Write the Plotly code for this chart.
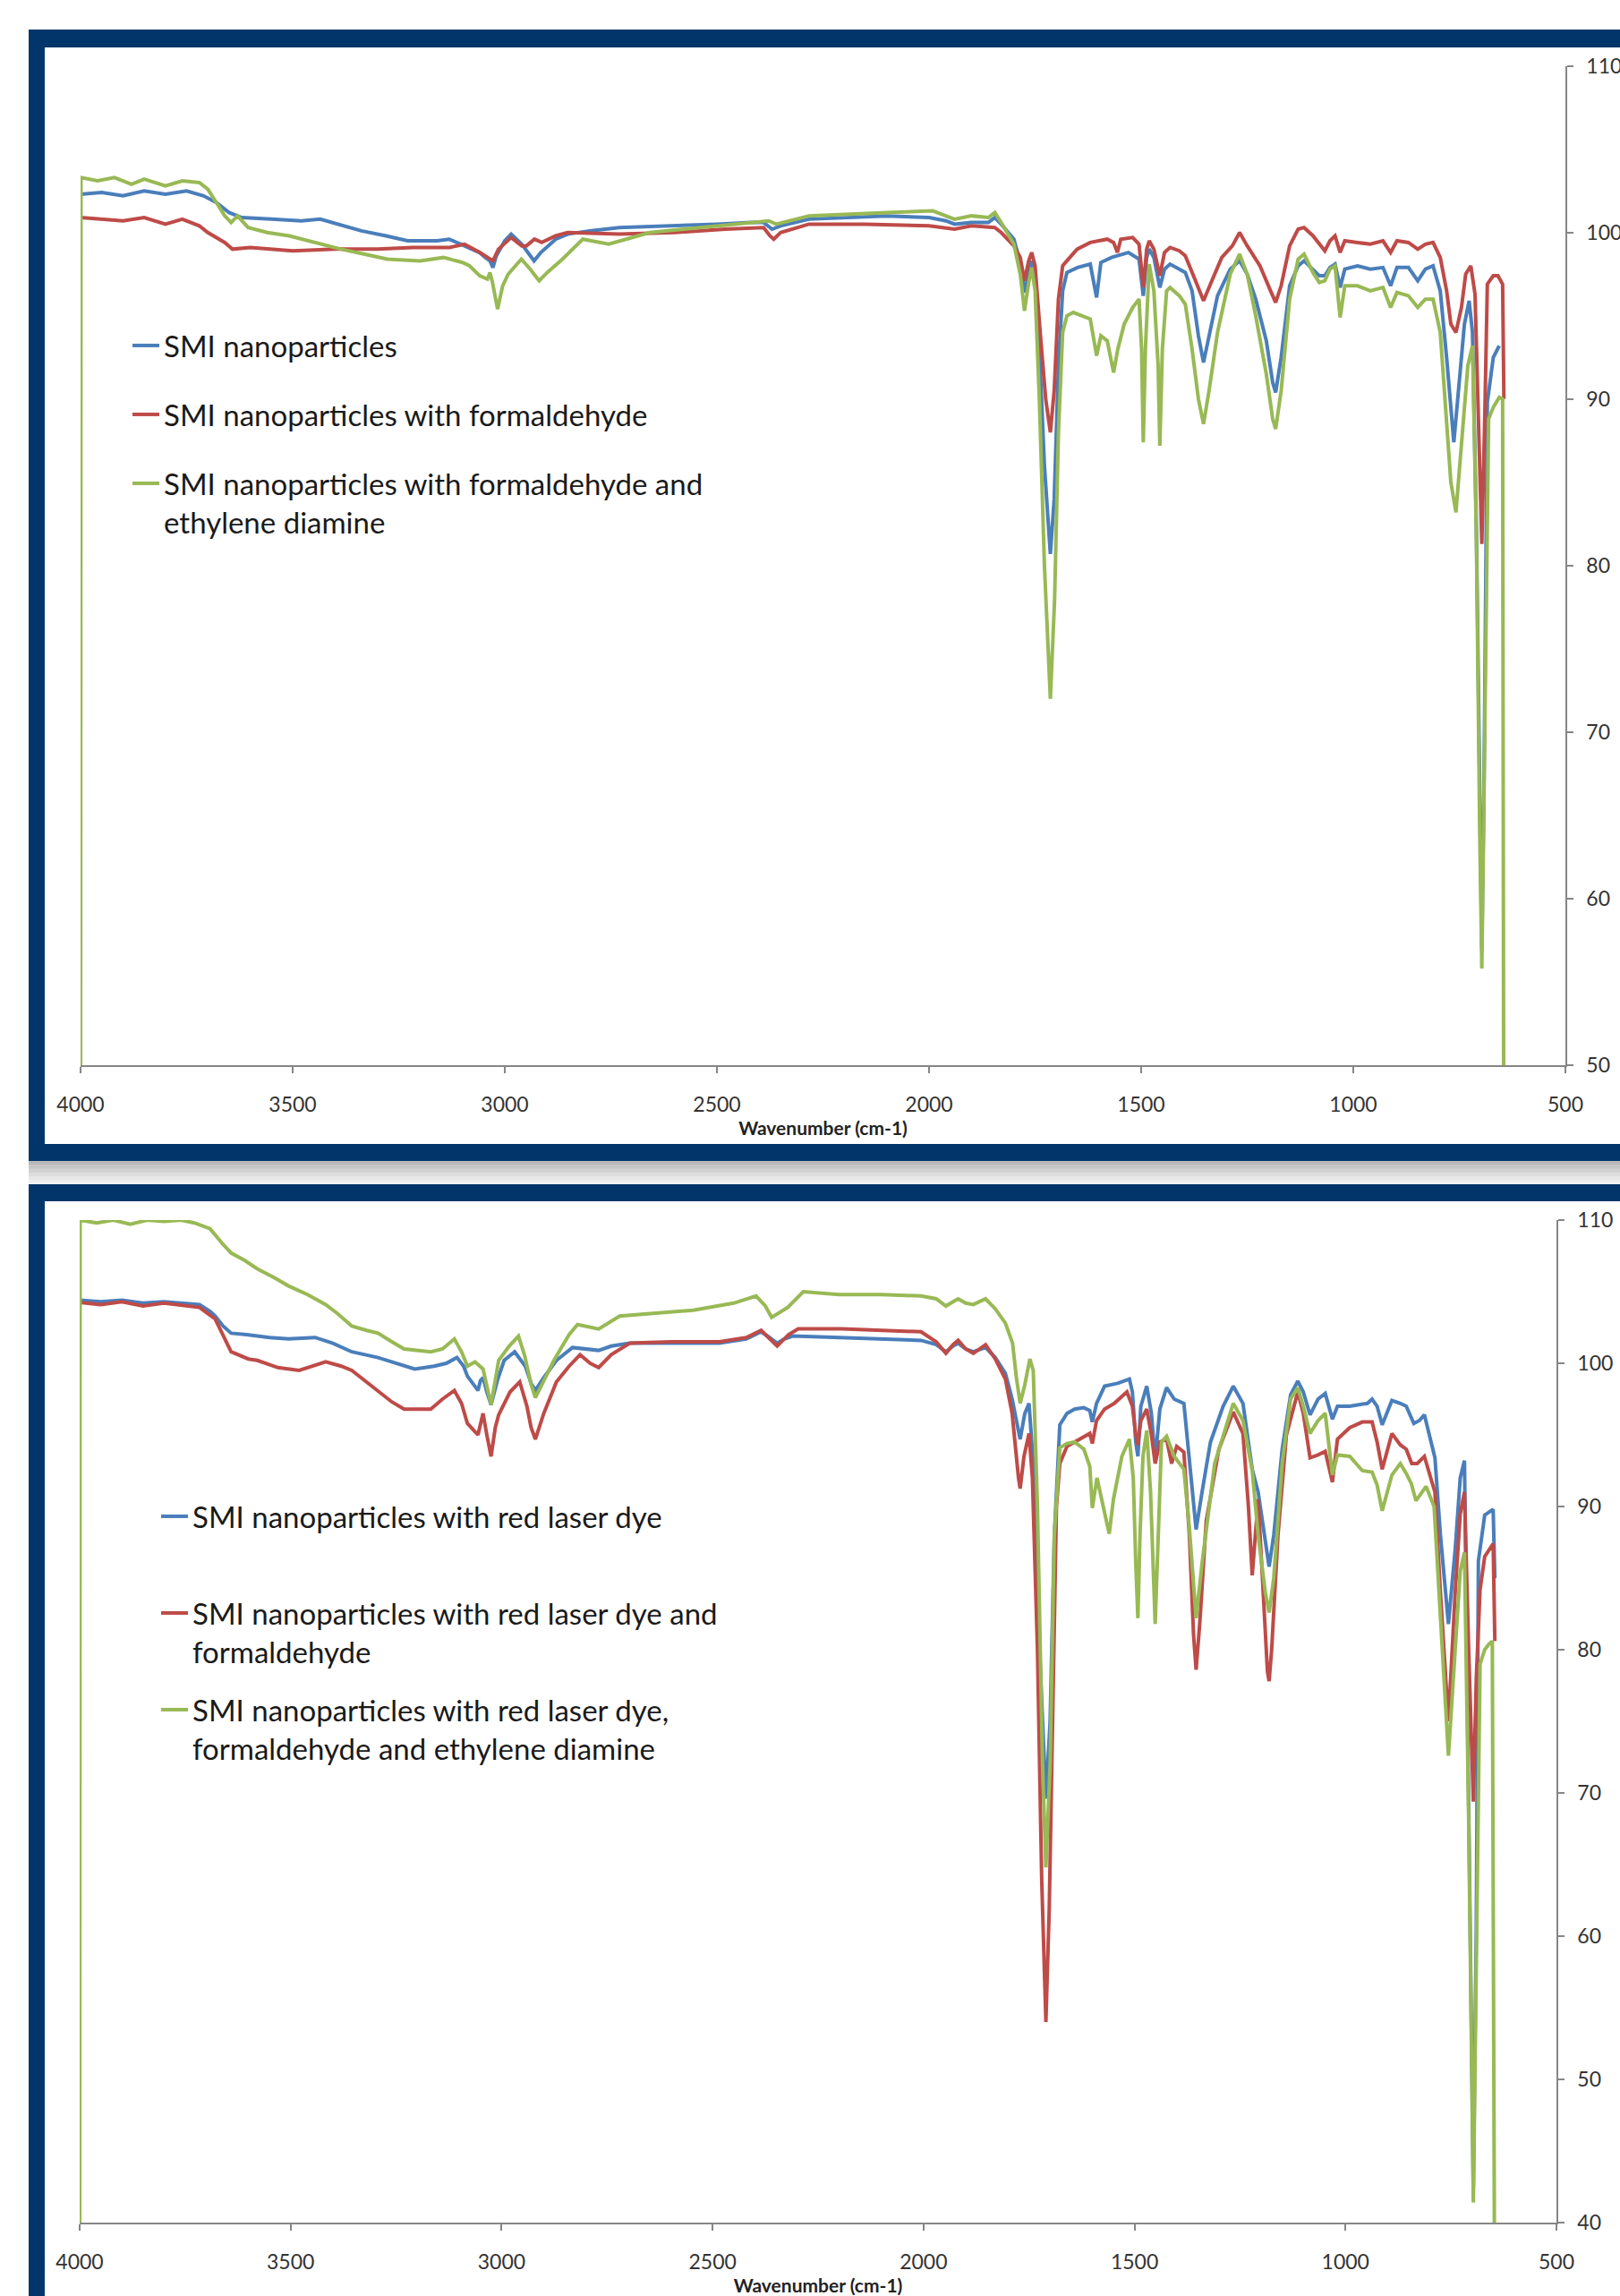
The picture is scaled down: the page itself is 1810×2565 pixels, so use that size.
import plotly.graph_objects as go

# ---------------- data (wavenumber cm-1, transmittance %) ----------------
top_blue = [(4000,102.3),(3950,102.4),(3900,102.2),(3850,102.5),(3800,102.3),(3750,102.5),(3710,102.2),
    (3680,101.8),(3650,101.2),(3620,100.9),(3550,100.8),(3480,100.7),(3435,100.8),(3380,100.4),(3338,100.1),
    (3280,99.8),(3229,99.5),(3160,99.5),(3131,99.6),(3095,99.2),(3060,98.8),(3046,98.5),(3035,98.3),(3028,97.9),
    (3020,98.6),(3000,99.5),(2985,99.9),(2960,99.3),(2940,98.6),(2931,98.3),(2915,98.8),(2880,99.6),(2852,99.9),
    (2800,100.1),(2730,100.3),(2600,100.4),(2500,100.5),(2420,100.6),(2390,100.6),(2370,100.2),(2350,100.4),
    (2283,100.8),(2200,100.9),(2100,101.0),(2000,100.9),(1960,100.7),(1940,100.5),(1900,100.6),(1860,100.6),
    (1845,100.9),(1830,100.5),(1800,99.6),(1785,98.2),(1775,96.4),(1765,97.6),(1758,98.3),(1750,97.5),(1740,93.0),
    (1728,86.0),(1714,80.7),(1705,84.0),(1695,92.0),(1685,96.5),(1675,97.6),(1650,97.9),(1620,98.1),(1605,96.1),
    (1595,98.2),(1570,98.5),(1554,98.6),(1530,98.8),(1505,98.4),(1495,96.2),(1487,98.5),(1481,99.0),(1470,98.5),
    (1456,96.7),(1445,97.8),(1432,98.1),(1410,97.8),(1396,97.6),(1380,96.5),(1365,93.8),(1353,92.2),(1340,93.8),
    (1320,96.2),(1290,97.8),(1268,98.3),(1250,97.5),(1230,96.0),(1205,93.5),(1190,91.0),(1183,90.4),(1170,92.5),
    (1150,96.8),(1130,98.0),(1116,98.3),(1095,97.8),(1080,97.4),(1067,97.4),(1055,97.9),(1043,98.1),(1031,96.7),
    (1020,97.8),(990,98.0),(960,97.8),(930,97.9),(912,96.8),(897,97.9),(870,97.9),(848,97.1),(830,97.8),(812,98.0),
    (795,96.5),(780,92.5),(763,87.4),(750,91.0),(738,94.5),(727,95.9),(719,94.0),(710,82.5),(702,64.5),(697,57.0),
    (692,66.5),(684,89.8),(670,92.5),(656,93.2)]

top_red = [(4000,100.9),(3950,100.8),(3900,100.7),(3850,100.9),(3800,100.5),(3760,100.8),(3720,100.4),(3700,100.0),
    (3680,99.7),(3660,99.4),(3642,99.0),(3600,99.1),(3500,98.9),(3398,99.0),(3300,99.0),(3216,99.1),(3130,99.1),
    (3095,99.3),(3059,98.8),(3040,98.5),(3028,98.3),(3015,99.0),(2985,99.7),(2960,99.2),(2949,99.2),(2930,99.6),
    (2913,99.4),(2880,99.8),(2852,100.0),(2730,99.9),(2600,100.0),(2480,100.2),(2390,100.3),(2375,99.8),(2366,99.6),
    (2350,100.0),(2283,100.5),(2150,100.5),(2000,100.4),(1940,100.2),(1900,100.4),(1845,100.3),(1830,100.0),
    (1800,99.2),(1785,98.5),(1775,97.1),(1765,98.3),(1758,98.8),(1750,98.0),(1738,94.0),(1725,90.0),(1714,88.0),
    (1705,90.5),(1695,96.0),(1685,98.0),(1675,98.3),(1651,99.0),(1620,99.4),(1580,99.6),(1565,99.4),(1556,98.8),
    (1548,99.6),(1520,99.7),(1505,99.3),(1495,96.7),(1487,99.0),(1481,99.5),(1470,99.0),(1456,97.4),(1445,98.8),
    (1432,99.1),(1410,98.9),(1396,98.6),(1375,97.3),(1353,95.9),(1335,97.0),(1310,98.5),(1285,99.2),(1268,100.0),
    (1250,99.2),(1220,98.0),(1195,96.5),(1183,95.8),(1170,96.8),(1150,99.2),(1130,100.2),(1116,100.3),(1095,99.8),
    (1080,99.3),(1067,98.9),(1055,99.5),(1043,99.8),(1031,98.8),(1020,99.5),(990,99.4),(960,99.3),(930,99.5),
    (912,98.8),(897,99.5),(870,99.4),(848,99.0),(830,99.3),(812,99.4),(795,98.5),(780,96.5),(770,94.5),(758,94.0),
    (745,95.5),(735,97.5),(723,98.0),(713,96.3),(705,89.0),(697,81.3),(690,89.0),(684,96.9),(670,97.4),(659,97.4),
    (648,96.9),(645,90.0)]

top_green = [(4000,40.0),(3999,103.3),(3960,103.1),(3920,103.3),(3880,102.9),(3850,103.2),(3800,102.8),(3760,103.1),
    (3720,103.0),(3700,102.6),(3680,101.8),(3660,101.0),(3645,100.6),(3630,101.0),(3605,100.3),(3560,100.0),
    (3508,99.8),(3450,99.4),(3386,99.0),(3330,98.7),(3277,98.4),(3200,98.3),(3144,98.5),(3100,98.2),(3083,98.0),
    (3059,97.4),(3041,97.2),(3035,97.6),(3029,97.0),(3017,95.4),(3005,96.8),(2992,97.5),(2961,98.4),(2940,97.8),
    (2919,97.1),(2900,97.6),(2864,98.4),(2816,99.6),(2755,99.3),(2658,100.0),(2500,100.4),(2378,100.7),(2360,100.5),
    (2283,101.0),(2100,101.2),(1991,101.3),(1940,100.8),(1900,101.0),(1860,100.9),(1845,101.2),(1830,100.6),
    (1800,99.3),(1785,97.5),(1775,95.3),(1765,97.0),(1758,97.9),(1750,96.5),(1740,90.0),(1728,80.0),(1714,72.0),
    (1704,78.0),(1695,88.0),(1685,94.0),(1675,95.0),(1660,95.2),(1640,95.0),(1620,94.8),(1605,92.6),(1595,93.8),
    (1580,93.5),(1565,91.6),(1555,93.0),(1540,94.5),(1520,95.5),(1505,96.0),(1499,93.0),(1495,87.4),(1490,93.0),
    (1481,98.1),(1470,96.5),(1460,92.0),(1456,87.2),(1450,93.0),(1440,96.5),(1432,96.7),(1410,96.2),(1396,95.7),
    (1380,93.0),(1365,90.0),(1353,88.5),(1340,90.5),(1320,94.0),(1290,97.5),(1268,98.7),(1250,97.5),(1230,95.0),
    (1205,91.5),(1190,88.8),(1183,88.2),(1170,90.5),(1150,96.0),(1130,98.4),(1116,98.7),(1095,97.6),(1080,97.0),
    (1067,97.1),(1055,97.8),(1043,98.0),(1031,94.9),(1020,96.8),(990,96.8),(960,96.5),(930,96.7),(912,95.5),
    (897,96.4),(870,96.2),(848,95.5),(830,96.0),(812,96.0),(795,94.0),(780,89.0),(770,85.0),(758,83.2),(745,87.0),
    (730,92.0),(719,93.2),(710,82.0),(702,64.0),(697,55.8),(692,66.0),(681,88.8),(670,89.5),(656,90.1),(648,90.0),
    (645,40.0)]

bot_blue = [(4000,104.4),(3950,104.3),(3900,104.4),(3850,104.2),(3800,104.3),(3750,104.2),(3716,104.1),(3690,103.6),
    (3679,103.3),(3660,102.6),(3641,102.1),(3604,102.0),(3550,101.8),(3505,101.7),(3442,101.8),(3400,101.4),
    (3355,100.8),(3293,100.4),(3250,100.0),(3206,99.6),(3160,99.8),(3131,100.0),(3106,100.4),(3090,99.8),(3081,99.1),
    (3056,98.1),(3050,98.8),(3044,99.0),(3035,98.0),(3025,97.1),(3010,98.8),(2994,100.2),(2969,100.8),(2944,99.8),
    (2930,98.6),(2920,98.1),(2900,99.0),(2870,100.2),(2832,101.1),(2800,101.0),(2770,100.9),(2740,101.2),
    (2696,101.4),(2600,101.4),(2484,101.4),(2420,101.7),(2385,102.2),(2365,101.8),(2347,101.4),(2330,101.7),
    (2310,101.9),(2200,101.8),(2100,101.7),(2006,101.6),(1970,101.3),(1947,100.8),(1930,101.2),(1918,101.4),
    (1900,101.0),(1882,100.8),(1853,101.1),(1830,100.4),(1806,99.3),(1790,97.5),(1771,94.7),(1760,96.5),(1750,97.2),
    (1740,93.0),(1725,80.0),(1710,69.6),(1700,75.0),(1690,88.0),(1677,95.7),(1660,96.5),(1642,96.8),(1620,96.9),
    (1606,96.7),(1600,95.9),(1590,97.2),(1571,98.4),(1540,98.6),(1512,98.9),(1505,98.0),(1497,94.5),(1492,93.5),
    (1485,97.0),(1471,98.4),(1460,96.5),(1451,93.2),(1440,96.8),(1424,98.3),(1406,97.5),(1383,97.2),(1370,93.5),
    (1354,88.4),(1340,91.0),(1320,94.5),(1290,97.0),(1266,98.4),(1243,97.2),(1221,92.6),(1207,91.0),(1190,87.5),
    (1181,85.8),(1170,88.0),(1150,94.0),(1130,97.8),(1113,98.75),(1100,98.0),(1084,96.4),(1065,97.5),(1048,97.9),
    (1031,96.1),(1019,97.0),(990,97.0),(948,97.2),(937,97.5),(925,97.0),(913,95.7),(890,97.4),(870,97.2),
    (856,97.0),(838,95.8),(825,96.0),(813,96.4),(788,93.4),(775,88.0),(756,81.8),(740,87.0),(728,92.0),(718,93.2),
    (708,68.5),(697,42.5),(690,60.5),(685,86.2),(670,89.4),(650,89.8),(646,85.0)]

bot_red = [(4000,104.25),(3950,104.1),(3900,104.3),(3850,104.0),(3800,104.2),(3750,104.0),(3716,103.9),(3679,103.1),
    (3660,102.0),(3641,100.8),(3600,100.3),(3579,100.2),(3530,99.7),(3480,99.5),(3417,100.1),(3380,99.8),
    (3355,99.5),(3293,98.1),(3260,97.3),(3231,96.8),(3168,96.8),(3140,97.5),(3112,98.1),(3095,97.2),(3081,95.8),
    (3056,95.0),(3044,96.5),(3035,95.0),(3025,93.5),(3015,95.5),(3007,96.4),(2980,98.0),(2957,98.7),(2940,97.0),
    (2930,95.5),(2920,94.7),(2900,96.5),(2870,98.7),(2840,99.8),(2814,100.6),(2790,100.0),(2770,99.7),(2740,100.6),
    (2696,101.4),(2600,101.5),(2484,101.5),(2420,101.8),(2385,102.3),(2365,101.7),(2347,101.2),(2320,102.0),
    (2297,102.4),(2194,102.4),(2100,102.3),(2006,102.2),(1970,101.5),(1947,100.7),(1930,101.3),(1918,101.6),
    (1900,101.0),(1882,100.7),(1853,101.3),(1830,100.3),(1806,98.9),(1790,96.5),(1775,92.0),(1771,91.25),
    (1762,93.5),(1750,95.1),(1742,92.0),(1730,80.0),(1720,64.0),(1710,54.0),(1702,62.0),(1692,80.0),(1685,90.0),
    (1677,93.0),(1660,94.2),(1642,94.5),(1618,94.9),(1606,95.1),(1600,94.4),(1590,96.0),(1571,96.8),(1548,97.2),
    (1518,98.0),(1505,97.0),(1497,95.0),(1492,94.3),(1485,96.0),(1471,96.8),(1460,95.0),(1451,93.0),(1440,94.5),
    (1424,94.7),(1412,93.0),(1400,94.2),(1383,93.8),(1370,88.0),(1360,81.0),(1354,78.6),(1345,82.0),(1330,89.0),
    (1300,94.0),(1266,96.6),(1243,95.1),(1230,90.0),(1221,85.2),(1214,88.0),(1207,90.5),(1195,84.0),(1185,78.5),
    (1181,77.8),(1175,80.0),(1160,88.0),(1140,95.0),(1113,98.0),(1100,96.5),(1084,93.4),(1065,93.6),(1048,93.85),
    (1031,91.7),(1019,94.7),(990,95.5),(960,95.9),(937,95.9),(925,94.5),(913,92.6),(890,95.1),(870,94.3),
    (856,94.0),(843,93.0),(830,93.0),(813,93.5),(788,91.0),(775,84.0),(756,75.0),(740,84.0),(728,89.5),(718,91.0),
    (708,80.0),(697,69.4),(690,78.0),(681,84.2),(670,86.5),(650,87.4),(646,80.6)]

bot_green = [(4000,30.0),(3999,110.0),(3960,109.8),(3920,110.0),(3880,109.7),(3840,110.0),(3800,109.9),(3760,110.0),
    (3728,109.8),(3691,109.4),(3660,108.3),(3641,107.7),(3610,107.2),(3579,106.6),(3540,106.0),(3505,105.4),
    (3460,104.8),(3417,104.1),(3390,103.5),(3355,102.6),(3320,102.3),(3293,102.1),(3260,101.5),(3231,101.0),
    (3168,100.8),(3140,101.0),(3112,101.7),(3095,100.8),(3081,99.8),(3063,100.1),(3044,99.6),(3035,98.5),
    (3025,97.1),(3015,98.8),(3007,100.2),(2982,101.2),(2960,101.9),(2945,100.5),(2930,98.5),(2920,97.6),(2900,98.8),
    (2876,100.2),(2840,102.0),(2820,102.7),(2770,102.4),(2720,103.3),(2546,103.7),(2450,104.2),(2397,104.7),
    (2375,104.0),(2360,103.2),(2322,103.9),(2285,105.0),(2200,104.8),(2100,104.8),(2006,104.7),(1970,104.5),
    (1947,104.0),(1930,104.3),(1918,104.5),(1900,104.2),(1882,104.1),(1853,104.5),(1830,103.8),(1806,102.8),
    (1789,101.4),(1780,99.0),(1771,97.2),(1760,98.5),(1748,100.3),(1740,99.5),(1730,90.0),(1718,72.0),(1710,64.8),
    (1700,72.0),(1690,88.0),(1677,94.1),(1660,94.4),(1642,94.5),(1620,94.0),(1606,92.8),(1600,89.9),(1589,92.0),
    (1575,90.0),(1560,88.1),(1550,90.5),(1530,93.5),(1512,94.7),(1503,92.0),(1497,86.0),(1492,82.2),(1487,88.0),
    (1480,93.5),(1471,95.3),(1462,91.0),(1451,81.8),(1444,88.0),(1436,94.5),(1424,94.9),(1406,93.5),(1383,92.6),
    (1370,88.5),(1354,82.2),(1340,86.0),(1310,93.0),(1266,97.2),(1243,96.0),(1221,92.5),(1207,88.0),(1190,84.0),
    (1181,82.6),(1170,85.0),(1150,93.0),(1130,97.5),(1113,98.3),(1100,97.0),(1084,95.1),(1065,96.0),(1048,96.5),
    (1031,92.2),(1019,93.6),(990,93.5),(960,92.5),(937,92.4),(925,91.5),(913,89.7),(890,92.2),(870,93.0),
    (856,92.3),(844,91.6),(833,90.4),(809,91.4),(790,90.0),(775,82.0),(756,72.6),(740,80.0),(728,85.5),(718,86.8),
    (708,68.0),(697,41.4),(690,60.0),(681,79.0),(670,80.0),(660,80.4),(652,80.6),(646,30.0)]

top_names = ["SMI nanoparticles",
             "SMI nanoparticles with formaldehyde",
             "SMI nanoparticles with formaldehyde and<br>ethylene diamine"]
bot_names = ["SMI nanoparticles with red laser dye",
             "SMI nanoparticles with red laser dye and<br>formaldehyde",
             "SMI nanoparticles with red laser dye,<br>formaldehyde and ethylene diamine"]
x_ticks = [4000, 3500, 3000, 2500, 2000, 1500, 1000, 500]
top_y_ticks = [50, 60, 70, 80, 90, 100, 110]
bot_y_ticks = [40, 50, 60, 70, 80, 90, 100, 110]
x_title = "Wavenumber (cm-1)"

# ---------------- styling / layout ----------------
W, H = 1810, 2565
BLUE, RED, GREEN = "#4A7EBB", "#BE4B48", "#98B954"
NAVY = "#02366A"
FONT = "Lato"
AX = "#868686"

def px(x):
    return x / W

def py(y):
    return 1 - y / H

fig = go.Figure()

series = [
    (top_blue, top_names[0], BLUE, "x", "y", "legend"),
    (top_red, top_names[1], RED, "x", "y", "legend2"),
    (top_green, top_names[2], GREEN, "x", "y", "legend3"),
    (bot_blue, bot_names[0], BLUE, "x2", "y2", "legend4"),
    (bot_red, bot_names[1], RED, "x2", "y2", "legend5"),
    (bot_green, bot_names[2], GREEN, "x2", "y2", "legend6"),
]
for data, name, color, xa, ya, lg in series:
    xs = [p[0] for p in data]
    ys = [p[1] for p in data]
    fig.add_trace(go.Scatter(x=xs, y=ys, name=name, mode="lines",
                             line=dict(color=color, width=4),
                             xaxis=xa, yaxis=ya, legend=lg, showlegend=True))

tickfont = dict(family=FONT, size=23, color="#333333")
xcommon = dict(range=[4000, 500], tickvals=x_ticks, showline=True, linecolor=AX, linewidth=1.5,
               ticks="outside", ticklen=7, tickcolor=AX, tickwidth=1.5, showgrid=False, zeroline=False,
               tickfont=tickfont, ticklabelstandoff=16, automargin=False,
               title=dict(text="<b>" + x_title + "</b>", font=dict(family=FONT, size=21, color="#222222"),
                          standoff=6))
ycommon = dict(side="right", showline=True, linecolor=AX, linewidth=1.5, ticks="outside", ticklen=7,
               tickcolor=AX, tickwidth=1.5, showgrid=False, zeroline=False, tickfont=tickfont,
               ticklabelstandoff=10, automargin=False)

legfont = dict(family=FONT, size=33, color="#1a1a1a")

def leg(xl, ytop):
    return dict(x=px(xl), y=py(ytop), xanchor="left", yanchor="top", xref="paper", yref="paper",
                bgcolor="rgba(0,0,0,0)", borderwidth=0, font=legfont, valign="top",
                itemclick=False, itemdoubleclick=False)

shapes = []
def rect(x0, y0, x1, y1, color):
    shapes.append(dict(type="rect", xref="paper", yref="paper", x0=px(x0), x1=px(x1),
                       y0=py(y1), y1=py(y0), fillcolor=color, line=dict(width=0), layer="below"))

# top frame
rect(32, 33, W + 5, 53, NAVY)
rect(32, 33, 50, 1297, NAVY)
rect(32, 1278, W + 5, 1297, NAVY)
# gray gradient between frames
grays = ["#b9b9b9", "#c6c6c6", "#d2d2d2", "#dddddd", "#e7e7e7", "#f0f0f0"]
for i, g in enumerate(grays):
    rect(32, 1297 + i * 4.3, W + 5, 1297 + (i + 1) * 4.3 + 0.5, g)
# bottom frame
rect(32, 1323, W + 5, 1342, NAVY)
rect(32, 1323, 50, H + 5, NAVY)

fig.update_layout(
    width=W, height=H, autosize=False,
    margin=dict(l=0, r=0, t=0, b=0, pad=0),
    paper_bgcolor="white", plot_bgcolor="white",
    font=dict(family=FONT),
    xaxis=dict(domain=[px(90), px(1749)], anchor="y", **xcommon),
    yaxis=dict(domain=[py(1190), py(73.7)], range=[50, 110], tickvals=top_y_ticks, anchor="x", **ycommon),
    xaxis2=dict(domain=[px(89), px(1739)], anchor="y2", **xcommon),
    yaxis2=dict(domain=[py(2483), py(1363)], range=[40, 110], tickvals=bot_y_ticks, anchor="x2", **ycommon),
    legend=leg(143, 358),
    legend2=leg(143, 435),
    legend3=leg(143, 512),
    legend4=leg(175, 1666),
    legend5=leg(175, 1774),
    legend6=leg(175, 1882),
    shapes=shapes,
    showlegend=True,
)

fig.write_html("out.html", config={"displayModeBar": False},
               post_script="document.body.style.margin='0';document.body.style.overflow='hidden';")
